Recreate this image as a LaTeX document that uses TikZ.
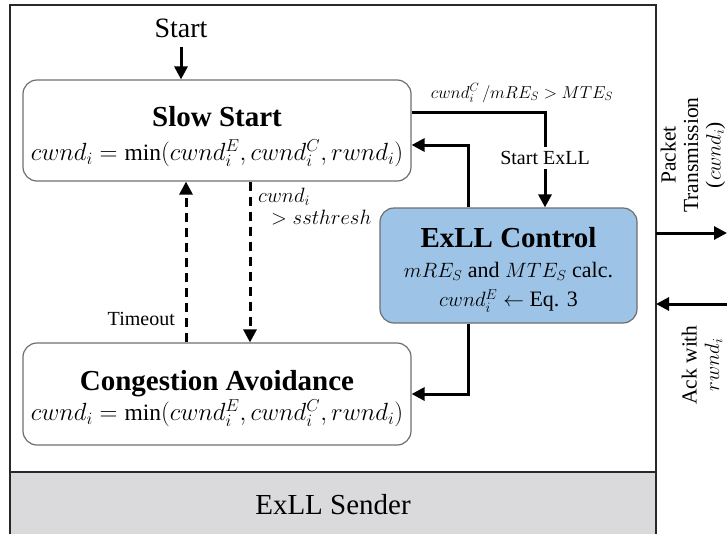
\documentclass[tikz,border=0pt]{standalone}
\usepackage{fontspec}
\setmainfont{Liberation Serif}
\usetikzlibrary{arrows.meta,calc}
\definecolor{exblue}{RGB}{157,195,230}
\definecolor{sendergray}{RGB}{218,218,220}
\definecolor{boxgray}{RGB}{110,110,110}
\definecolor{framedark}{RGB}{40,40,40}
\newcommand{\ttl}[1]{{\fontsize{29}{29}\selectfont\bfseries #1}}
\tikzset{
  statebox/.style={draw=boxgray, line width=1.2pt, rounded corners=14pt, align=center, inner sep=0pt},
  lbl/.style={font=\fontsize{20}{22}\selectfont, inner sep=2pt},
  arr/.style={line width=3pt, -{Triangle[length=13pt,width=13pt]}},
  plainline/.style={line width=3pt},
  dasharr/.style={line width=3pt, dash pattern=on 9pt off 6pt, -{Triangle[length=13pt,width=13pt]}},
  sidelbl/.style={font=\fontsize{21.5}{22.5}\selectfont, rotate=90, align=center, inner sep=0pt},
}
\begin{document}
\begin{tikzpicture}[x=1pt,y=-1pt]
\useasboundingbox (0,0) rectangle (727,533);
\clip (0,0) rectangle (727,533);
% sender frame
\fill[sendergray] (10,472) rectangle (656,540);
\draw[framedark, line width=2.5pt] (10,472) -- (656,472);
\draw[framedark, line width=2.5pt] (10,540) -- (10,5) -- (656,5) -- (656,540);
\node[font=\fontsize{29}{34}\selectfont] (sender) at (333,505) {ExLL Sender};

% states
\node[statebox, font=\fontsize{23.5}{34}\selectfont, minimum width=388pt, minimum height=101pt] (ss) at (217,130.5)
  {\rule{0pt}{32pt}\ttl{Slow Start}\\
   $cwnd_i = \min(cwnd_i^E, cwnd_i^C, rwnd_i)$};
\node[statebox, font=\fontsize{23.5}{30.5}\selectfont, minimum width=388pt, minimum height=102pt] (ca) at (217,394)
  {\rule{0pt}{29pt}\ttl{Congestion Avoidance}\\
   $cwnd_i = \min(cwnd_i^E, cwnd_i^C, rwnd_i)$};
\node[statebox, fill=exblue, font=\fontsize{22}{29.5}\selectfont, minimum width=257pt, minimum height=115pt] (exll) at (508.5,265.5)
  {\rule{0pt}{29pt}\ttl{ExLL Control}\\
   $mRE_S$ and $MTE_S$ calc.\\
   $cwnd_i^E \leftarrow$ Eq. 3};

% start
\node[font=\fontsize{28}{32}\selectfont, inner sep=3pt] (start) at (181,28) {Start};
\coordinate (s0) at (181,47);
\draw[arr] (s0) -- (ss.north -| s0);

% dashed transitions
\coordinate (tx) at (186,0);
\coordinate (sx) at (250,0);
\draw[dasharr] (ca.north -| tx) -- (ss.south -| tx);
\draw[dasharr] (ss.south -| sx) -- (ca.north -| sx);
\node[lbl, anchor=east] (timeout) at (177,319) {Timeout};
\node[lbl, anchor=west] (ssl1) at (256,197) {$cwnd_i$};
\node[lbl, anchor=west] (ssl2) at (269,218) {$> ssthresh$};

% to ExLL
\coordinate (c1) at (545,112);
\node[lbl, inner sep=4pt] (startexll) at (545,158) {Start ExLL};
\node[lbl, font=\fontsize{18}{20}\selectfont] (cond) at (522,93) {$cwnd_i^C\,/mRE_S > MTE_S$};
\draw[plainline] (ss.east |- c1) -| (startexll.north);
\draw[arr] (startexll.south) -- (exll.north -| startexll);

% from ExLL
\coordinate (ex) at (468,0);
\coordinate (r1) at (0,145);
\coordinate (r2) at (0,394);
\draw[arr] (exll.north -| ex) |- (ss.east |- r1);
\draw[arr] (exll.south -| ex) |- (ca.east |- r2);

% packets
\coordinate (p0) at (656,233);
\coordinate (p1) at (727,233);
\coordinate (a0) at (727,304);
\coordinate (a1) at (656,304);
\draw[arr] (p0) -- (p1);
\draw[arr] (a0) -- (a1);
\node[sidelbl] (ptx) at (693,155) {Packet\\Transmission\\($cwnd_i$)};
\node[sidelbl] (ack) at (702,365) {Ack with\\$rwnd_i$};
\end{tikzpicture}
\end{document}
